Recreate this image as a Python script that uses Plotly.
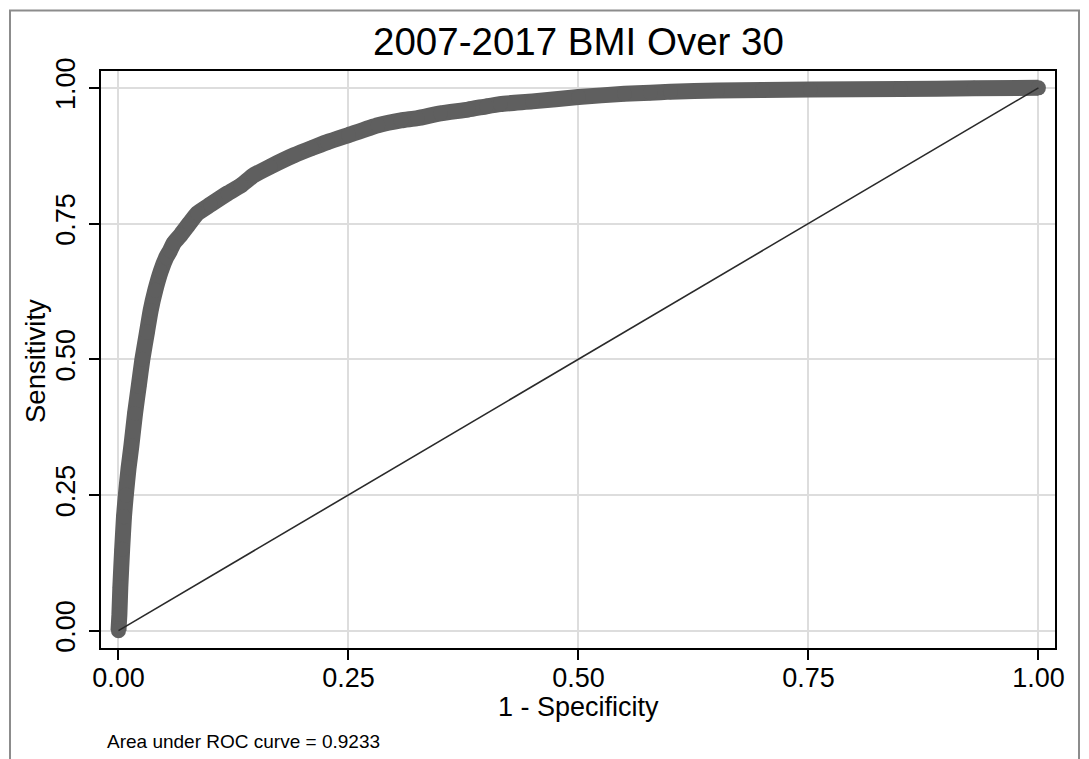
import plotly.graph_objects as go

# ROC curve points (1 - specificity, sensitivity)
fpr = [0, 0.001, 0.002, 0.004, 0.006, 0.008, 0.011, 0.014, 0.018, 0.022, 0.026,
       0.031, 0.035, 0.040, 0.046, 0.052, 0.056, 0.060, 0.068, 0.077, 0.086,
       0.100, 0.119, 0.133, 0.147, 0.165, 0.191, 0.210, 0.227, 0.250, 0.282,
       0.307, 0.325, 0.350, 0.380, 0.400, 0.415, 0.450, 0.500, 0.550, 0.578,
       0.600, 0.651, 0.700, 0.752, 0.850, 0.930, 1.0]
tpr = [0, 0.03, 0.08, 0.15, 0.21, 0.25, 0.30, 0.34, 0.40, 0.45, 0.50,
       0.55, 0.59, 0.627, 0.662, 0.688, 0.700, 0.714, 0.730, 0.750, 0.769,
       0.785, 0.806, 0.820, 0.839, 0.855, 0.876, 0.889, 0.900, 0.913, 0.931,
       0.940, 0.944, 0.953, 0.960, 0.966, 0.970, 0.975, 0.983, 0.989, 0.991,
       0.993, 0.995, 0.996, 0.997, 0.998, 0.999, 1.0]

ref_x = [0, 1]
ref_y = [0, 1]

tick_vals = [0, 0.25, 0.5, 0.75, 1.0]
tick_text = ["0.00", "0.25", "0.50", "0.75", "1.00"]

title_text = "2007-2017 BMI Over 30"
x_title = "1 - Specificity"
y_title = "Sensitivity"
auc_note = "Area under ROC curve = 0.9233"

FONT = "Liberation Sans, Arial, Helvetica, sans-serif"
CURVE = "#5f5f5f"

fig = go.Figure()
fig.add_trace(go.Scatter(
    x=fpr, y=tpr, mode="lines+markers",
    line=dict(color=CURVE, width=16, simplify=False, shape="spline", smoothing=0.5),
    marker=dict(color=CURVE, size=15, line=dict(width=0)),
    showlegend=False, hoverinfo="skip"))
fig.add_trace(go.Scatter(
    x=ref_x, y=ref_y, mode="lines",
    line=dict(color="#2a2a2a", width=1.6),
    showlegend=False, hoverinfo="skip"))

L, R, T, B = 101, 34, 71, 111
W, H = 1089, 759
pw = W - L - R
ph = H - T - B

def px_to_paper_x(px):
    return (px - L) / pw

def py_to_paper_y(py):
    return (H - B - py) / ph

axis_common = dict(
    showline=True, linecolor="black", linewidth=2, mirror=True,
    ticks="outside", ticklen=10, tickwidth=1.5, tickcolor="black",
    showgrid=True, gridcolor="#dddddd", gridwidth=2,
    zeroline=False, tickvals=tick_vals, ticktext=tick_text,
    tickfont=dict(family=FONT, size=27, color="black"),
)

fig.update_xaxes(range=[-0.019, 1.018], ticklabelstandoff=-5, **axis_common)
fig.update_yaxes(range=[-0.032, 1.031], tickangle=-90, ticklabelstandoff=3,
                 **axis_common)

fig.add_annotation(text=title_text, xref="paper", yref="paper",
                   x=0.5, y=py_to_paper_y(42), xanchor="center", yanchor="middle",
                   showarrow=False, font=dict(family=FONT, size=38.5, color="black"))
fig.add_annotation(text=x_title, xref="paper", yref="paper",
                   x=0.5, y=py_to_paper_y(707), xanchor="center", yanchor="middle",
                   showarrow=False, font=dict(family=FONT, size=27, color="black"))
fig.add_annotation(text=y_title, xref="paper", yref="paper",
                   x=px_to_paper_x(35), y=py_to_paper_y(361), xanchor="center",
                   yanchor="middle", textangle=-90,
                   showarrow=False, font=dict(family=FONT, size=27.5, color="black"))
fig.add_annotation(text=auc_note, xref="paper", yref="paper",
                   x=px_to_paper_x(105), y=py_to_paper_y(741), xanchor="left",
                   yanchor="middle", showarrow=False,
                   font=dict(family=FONT, size=19, color="black"))

fig.add_shape(type="rect", xref="paper", yref="paper",
              x0=px_to_paper_x(10), x1=px_to_paper_x(1079),
              y0=py_to_paper_y(790), y1=py_to_paper_y(10.5),
              line=dict(color="#8c8c8c", width=2), fillcolor="rgba(0,0,0,0)",
              layer="below")

fig.update_layout(
    width=W, height=H,
    margin=dict(l=L, r=R, t=T, b=B),
    paper_bgcolor="white", plot_bgcolor="white",
    font=dict(family=FONT, color="black"),
)

fig.write_html("out.html")
